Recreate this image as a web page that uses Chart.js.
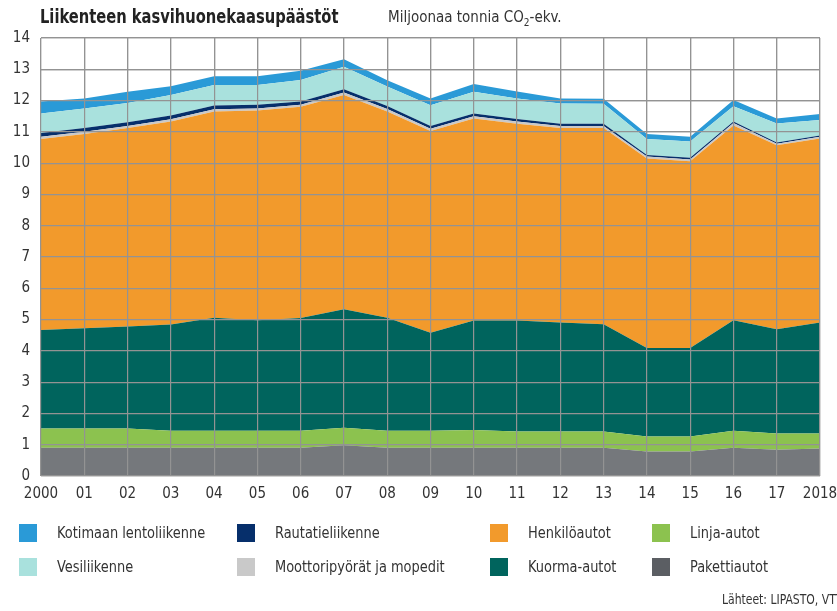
<!DOCTYPE html>
<html>
<head>
<meta charset="utf-8">
<script src="https://cdn.jsdelivr.net/npm/chart.js@4"></script>
<style>
  body { margin: 0; background: #fff; }
  #wrap { position: relative; width: 837px; height: 611px; overflow: hidden;
          font-family: "Liberation Sans Narrow", "DejaVu Sans Condensed", sans-serif; color: #333; }
  #title { position: absolute; left: 40px; top: 5px; font-size: 19px; font-weight: bold; color: #222;
           white-space: nowrap; transform: scaleX(0.86); transform-origin: left top; }
  #unit { position: absolute; left: 388px; top: 8px; font-size: 15px; color: #333; white-space: nowrap; }
  #source { position: absolute; left: 722px; top: 591px; font-size: 14px; color: #333; white-space: nowrap;
            transform: scaleX(0.86); transform-origin: left top; }
  .leg { position: absolute; font-size: 16px; color: #333; white-space: nowrap; }
  .leg i { position: absolute; left: 0; top: 0; width: 18px; height: 18px; }
  .leg span { position: absolute; left: 38px; top: -1px; line-height: 19px;
              transform: scaleX(0.9); transform-origin: left top; }
</style>
</head>
<body>
<div id="wrap">
  <canvas id="c" width="837" height="611"></canvas>
  <div id="title">Liikenteen kasvihuonekaasupäästöt</div>
  <div id="unit">Miljoonaa tonnia CO<sub style="font-size:10px">2</sub>-ekv.</div>
  <div id="legend"></div>
  <div id="source">Lähteet: LIPASTO, VTT</div>
</div>
<script>
// -- Data --
const years = [2000, 2001, 2002, 2003, 2004, 2005, 2006, 2007, 2008, 2009,
               2010, 2011, 2012, 2013, 2014, 2015, 2016, 2017, 2018];

const pakettiautot = [0.90, 0.90, 0.90, 0.90, 0.90, 0.90, 0.90, 0.98, 0.90, 0.90, 0.90, 0.90, 0.90, 0.90, 0.78, 0.78, 0.90, 0.84, 0.88];
const linjaautot   = [0.62, 0.62, 0.62, 0.55, 0.55, 0.55, 0.55, 0.56, 0.55, 0.55, 0.57, 0.52, 0.52, 0.52, 0.48, 0.48, 0.55, 0.52, 0.48];
const kuormaautot  = [3.15, 3.20, 3.26, 3.39, 3.61, 3.53, 3.60, 3.79, 3.61, 3.13, 3.50, 3.55, 3.49, 3.43, 2.83, 2.83, 3.53, 3.33, 3.55];
const henkiloautot = [6.10, 6.21, 6.34, 6.49, 6.59, 6.70, 6.75, 6.85, 6.59, 6.45, 6.46, 6.29, 6.21, 6.27, 6.06, 5.97, 6.22, 5.88, 5.88];
const moottoripyorat = [0.07, 0.07, 0.07, 0.07, 0.07, 0.07, 0.07, 0.08, 0.08, 0.07, 0.07, 0.07, 0.07, 0.07, 0.06, 0.06, 0.08, 0.05, 0.05];
const rautatie     = [0.12, 0.12, 0.12, 0.12, 0.12, 0.12, 0.10, 0.10, 0.10, 0.09, 0.09, 0.08, 0.07, 0.07, 0.05, 0.05, 0.05, 0.04, 0.04];
const vesiliikenne = [0.63, 0.63, 0.61, 0.66, 0.66, 0.63, 0.69, 0.72, 0.62, 0.66, 0.69, 0.66, 0.65, 0.64, 0.51, 0.52, 0.49, 0.61, 0.50];
const lentoliikenne = [0.38, 0.32, 0.36, 0.28, 0.28, 0.28, 0.29, 0.24, 0.20, 0.22, 0.25, 0.22, 0.16, 0.16, 0.16, 0.15, 0.20, 0.16, 0.19];

const yTicks = [0, 1, 2, 3, 4, 5, 6, 7, 8, 9, 10, 11, 12, 13, 14];

// bottom to top
const series = [
    { label: 'Pakettiautot', data: pakettiautot, color: '#75787c', legend: '#5b5e63' },
    { label: 'Linja-autot', data: linjaautot, color: '#8cc24f', legend: '#8cc24f' },
    { label: 'Kuorma-autot', data: kuormaautot, color: '#00645d', legend: '#00645d' },
    { label: 'Henkilöautot', data: henkiloautot, color: '#f29a2c', legend: '#f29a2c' },
    { label: 'Moottoripyörät ja mopedit', data: moottoripyorat, color: '#c9c9c9', legend: '#c9c9c9' },
    { label: 'Rautatieliikenne', data: rautatie, color: '#062f6b', legend: '#062f6b' },
    { label: 'Vesiliikenne', data: vesiliikenne, color: '#a9e1dd', legend: '#a9e1dd' },
    { label: 'Kotimaan lentoliikenne', data: lentoliikenne, color: '#2a9ad7', legend: '#2a9ad7' }
];

// legend layout order (two rows of four)
const legendOrder = [
    ['Kotimaan lentoliikenne', 'Rautatieliikenne', 'Henkilöautot', 'Linja-autot'],
    ['Vesiliikenne', 'Moottoripyörät ja mopedit', 'Kuorma-autot', 'Pakettiautot']
];

// -- Legend --
const colX = [19, 237, 490, 652];
const rowY = [524, 558];
const legendEl = document.getElementById('legend');
legendOrder.forEach((row, r) => {
    row.forEach((name, c) => {
        const s = series.find(d => d.label === name);
        const div = document.createElement('div');
        div.className = 'leg';
        div.style.left = colX[c] + 'px';
        div.style.top = rowY[r] + 'px';
        div.innerHTML = `<i style="background:${s.legend}"></i><span>${name}</span>`;
        legendEl.appendChild(div);
    });
});

// -- Grid on top of the areas --
const gridOnTop = {
    id: 'gridOnTop',
    afterDatasetsDraw(chart) {
        chart.scales.x.drawGrid(chart.chartArea);
        chart.scales.y.drawGrid(chart.chartArea);
    }
};

const fontFamily = '"Liberation Sans Narrow", "DejaVu Sans Condensed", sans-serif';

new Chart(document.getElementById('c'), {
    type: 'line',
    data: {
        labels: years,
        datasets: series.map((s, i) => ({
            label: s.label,
            data: s.data,
            backgroundColor: s.color,
            borderColor: s.color,
            borderWidth: 0,
            pointRadius: 0,
            tension: 0,
            fill: i === 0 ? 'origin' : '-1'
        }))
    },
    options: {
        responsive: false,
        animation: false,
        layout: { padding: { left: 0, right: 17, top: 38, bottom: 104 } },
        plugins: { legend: { display: false }, tooltip: { enabled: false } },
        scales: {
            x: {
                offset: false,
                grid: { color: '#939393', lineWidth: 1.2, drawTicks: false },
                border: { display: false },
                ticks: {
                    padding: 9,
                    maxRotation: 0,
                    autoSkip: false,
                    color: '#333',
                    font: { family: fontFamily, size: 15 },
                    callback: function (value, index) {
                        const y = years[index];
                        if (index === 0 || index === years.length - 1) return String(y);
                        return String(y).slice(2);
                    }
                },
                afterFit: function (scale) {
                    scale.height = 31;
                    scale.paddingLeft = 0;
                    scale.paddingRight = 0;
                }
            },
            y: {
                stacked: true,
                min: 0,
                max: 14,
                afterBuildTicks: function (scale) { scale.ticks = yTicks.map(v => ({ value: v })); },
                grid: { color: '#939393', lineWidth: 1.2, drawTicks: false },
                border: { display: false },
                ticks: {
                    padding: 11,
                    color: '#333',
                    font: { family: fontFamily, size: 15 }
                },
                afterFit: function (scale) {
                    scale.width = 41;
                    scale.paddingTop = 0;
                    scale.paddingBottom = 0;
                }
            }
        }
    },
    plugins: [gridOnTop]
});
</script>
</body>
</html>
